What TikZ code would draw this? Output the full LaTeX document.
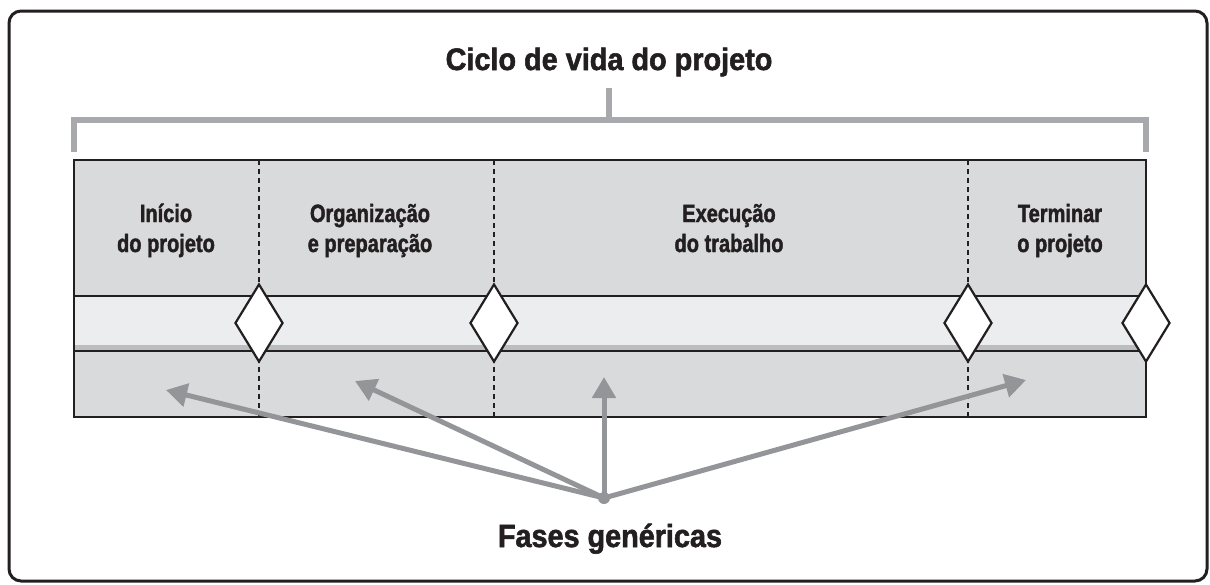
\documentclass[tikz,border=0pt]{standalone}
\usepackage{fontspec}
\newfontfamily\labfont[FakeStretch=0.8,FakeBold=1.6]{Liberation Sans}
\newfontfamily\titfont[FakeStretch=0.93,FakeBold=1.8]{Liberation Sans}
\newfontfamily\fasfont[FakeStretch=0.9,FakeBold=1.8]{Liberation Sans}
\usetikzlibrary{arrows.meta,shapes.geometric}
\definecolor{framec}{HTML}{231F20}
\definecolor{boxfill}{HTML}{D9DADB}
\definecolor{bandfill}{HTML}{ECEDEE}
\definecolor{bandshadow}{HTML}{BCBDC0}
\definecolor{brackc}{HTML}{A7A9AC}
\definecolor{arrowc}{HTML}{939598}
\definecolor{textc}{HTML}{231F20}
\tikzset{
  outerframe/.style={draw=framec,line width=3pt,rounded corners=12pt},
  brackline/.style={draw=brackc,line width=6pt},
  boxline/.style={draw=framec,line width=2.5pt},
  divider/.style={draw=framec,line width=2.2pt,dash pattern=on 5pt off 4pt},
  gate/.style={shape=diamond,draw=framec,fill=white,line width=2.2pt,minimum width=48pt,minimum height=78pt,inner sep=0pt},
  phaselabel/.style={text=textc,font=\labfont\bfseries\fontsize{25}{30}\selectfont,align=center,anchor=base,inner sep=0pt},
  phasearrow/.style={draw=arrowc,line width=5pt,-{Triangle[length=21pt,width=23pt]}}
}
\begin{document}
\begin{tikzpicture}[x=1pt,y=-1pt]
\useasboundingbox (0,0) rectangle (1210,584);
\draw[outerframe] (9,11) rectangle (1207,581);
% title and bracket
\node[text=textc,font=\titfont\bfseries\fontsize{31}{36}\selectfont,anchor=base,inner sep=0pt] (title) at (609,70) {Ciclo de vida do projeto};
\draw[brackline] (74,152) -- (74,120) -- (1146,120) -- (1146,152);
\draw[brackline] (609,88) -- (609,120);
% main box
\fill[boxfill] (74,160) rectangle (1146,417);
\fill[bandfill] (74,296) rectangle (1146,351);
\fill[bandshadow] (74,345) rectangle (1146,351);
\draw[boxline] (74,296) -- (1146,296);
\draw[boxline] (74,351) -- (1146,351);
\draw[divider] (259,160) -- (259,417);
\draw[divider] (494,160) -- (494,417);
\draw[divider] (968,160) -- (968,417);
\draw[boxline] (74,160) rectangle (1146,417);
% gates
\node[gate] (g1) at (259,323) {};
\node[gate] (g2) at (494,323) {};
\node[gate] (g3) at (968,323) {};
\node[gate] (g4) at (1146,323) {};
% phase labels (base = baseline of last line)
\node[phaselabel] (p1) at (166,252) {Início\\do projeto};
\node[phaselabel] (p2) at (370,252) {Organização\\e preparação};
\node[phaselabel] (p3) at (729,252) {Execução\\do trabalho};
\node[phaselabel] (p4) at (1060,252) {Terminar\\o projeto};
% arrows
\coordinate (o) at (604,498);
\coordinate (t1) at (166,390);
\coordinate (t2) at (355,381);
\coordinate (t3) at (604,377);
\coordinate (t4) at (1026,380);
\draw[phasearrow] (o) -- (t1);
\draw[phasearrow] (o) -- (t2);
\draw[phasearrow] (o) -- (t3);
\draw[phasearrow] (o) -- (t4);
\fill[arrowc] (o) circle (6pt);
\node[text=textc,font=\fasfont\bfseries\fontsize{32}{38}\selectfont,anchor=base,inner sep=0pt] (fases) at (610,547) {Fases genéricas};
\end{tikzpicture}
\end{document}
